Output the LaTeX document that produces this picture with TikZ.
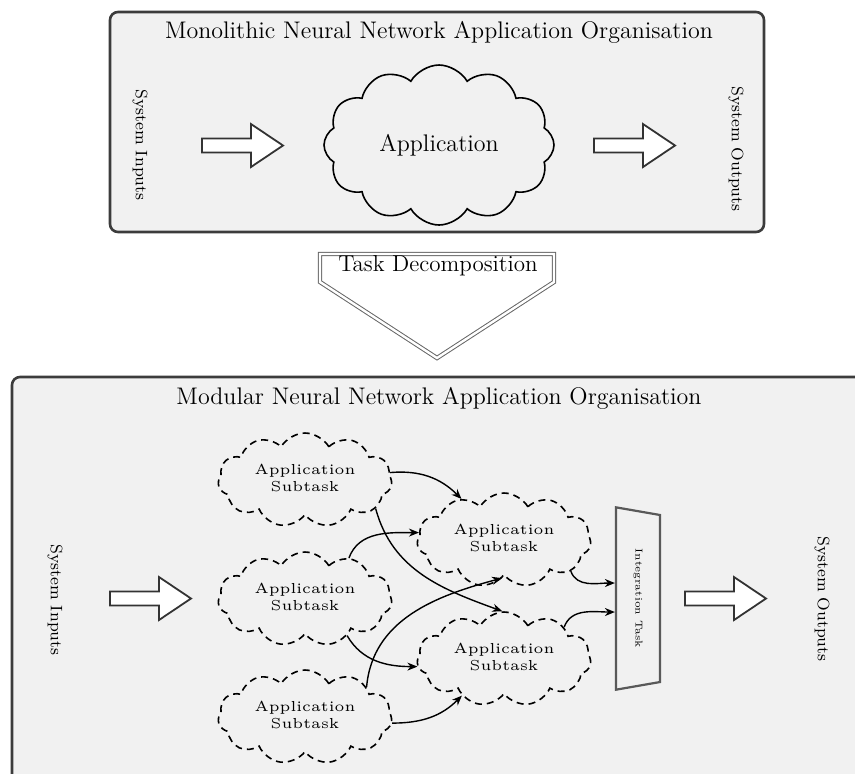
\documentclass[tikz,border=0pt]{standalone}
\usepackage{graphicx}
\usetikzlibrary{shapes.symbols,shapes.geometric,arrows.meta,calc}

\definecolor{panelgray}{RGB}{241,241,241}
\definecolor{framegray}{RGB}{60,60,60}

% small, widely set label used inside the subtask clouds
\newcommand{\subtasktext}{\scalebox{1.45}{\fontsize{5}{5.9}\selectfont
  \begin{tabular}{@{}c@{}}Application\\Subtask\end{tabular}}}

\tikzset{
  panel/.style={draw=framegray, line width=1.3pt, fill=panelgray, rounded corners=4pt},
  paneltitle/.style={font=\fontsize{12}{14}\selectfont},
  sidelabel/.style={font=\fontsize{8.3}{10}\selectfont, rotate=-90},
  bigcloud/.style={cloud, draw, line width=0.8pt, cloud puffs=12, cloud puff arc=120,
    cloud ignores aspect, minimum width=115pt, minimum height=80pt,
    font=\fontsize{12}{14}\selectfont},
  subcloud/.style={cloud, draw, line width=0.8pt, dash pattern=on 3.5pt off 2.5pt,
    cloud puffs=11, cloud puff arc=120, cloud ignores aspect,
    minimum width=87pt, minimum height=47pt, inner sep=0pt},
  flow/.style={-{Stealth[length=5pt,width=4pt]}, line width=0.7pt},
  hollow/.style={draw=black!80, line width=0.9pt, fill=white},
  fatarrow/.pic={
    \path[hollow] (0,-7) -- (49,-7) -- (49,-21.5) -- (81,0) -- (49,21.5) -- (49,7) -- (0,7) -- cycle;
  },
  integrator/.style={trapezium, draw=black!65, line width=1.1pt, rotate=-90,
    trapezium stretches=true, trapezium angle=70, minimum width=91.5pt,
    minimum height=22pt, inner sep=1pt, font=\fontsize{5}{6}\selectfont},
  decomp/.style={draw=black!60, double=white, double distance=1.2pt, line width=0.5pt}
}

\begin{document}
\begin{tikzpicture}[x=0.5pt, y=-0.5pt]
\useasboundingbox (0,0) rectangle (855,773);

% ---------- monolithic organisation ----------
\draw[panel] (110,12) rectangle (764,232);
\node[paneltitle] (montitle) at (439,32) {Monolithic Neural Network Application Organisation};
\node[sidelabel] (monin) at (140,145) {System Inputs};
\node[sidelabel] (monout) at (736,149) {System Outputs};
\pic at (202,145.5) {fatarrow};
\pic at (594,145.5) {fatarrow};
\node[bigcloud] (app) at (439,145) {Application};

% ---------- decomposition arrow ----------
\draw[decomp] (320,254) -- (554,254) -- (554,282) -- (437,358) -- (320,282) -- cycle;
\node[font=\fontsize{11.5}{13}\selectfont] (task) at (438,266) {Task Decomposition};

% ---------- modular organisation ----------
\draw[panel] (12,377) rectangle (900,820);
\node[paneltitle] (modtitle) at (439,398) {Modular Neural Network Application Organisation};
\node[sidelabel] (modin) at (55,600) {System Inputs};
\node[sidelabel] (modout) at (822,599) {System Outputs};
\pic at (110,598.5) {fatarrow};
\pic at (685,598.5) {fatarrow};

\node[subcloud] (sa) at (305,480) {\subtasktext};
\node[subcloud] (sb) at (305,599) {\subtasktext};
\node[subcloud] (sc) at (305,717) {\subtasktext};
\node[subcloud] (sd) at (504,540) {\subtasktext};
\node[subcloud] (se) at (504,659) {\subtasktext};

\node[integrator] (int) at (638,598.5) {Integration Task};

% connections between subtasks
\draw[flow] (sa.5)   to[out=5,   in=135] (sd.136);
\draw[flow] (sa.-22) to[out=-75, in=160] (se.92);
\draw[flow] (sb.43)  to[out=70,  in=180] (sd.175);
\draw[flow] (sb.-41) to[out=-60, in=180] (se.185);
\draw[flow] (sc.26)  to[out=85,  in=195] (sd.-93);
\draw[flow] (sc.-4)  to[out=0,   in=225] (se.221);
\draw[flow] (sd.-25) to[out=-70, in=180] ([yshift=7.75pt]int.south);
\draw[flow] (se.28)  to[out=70,  in=180] ([yshift=-6.75pt]int.south);
\end{tikzpicture}
\end{document}
